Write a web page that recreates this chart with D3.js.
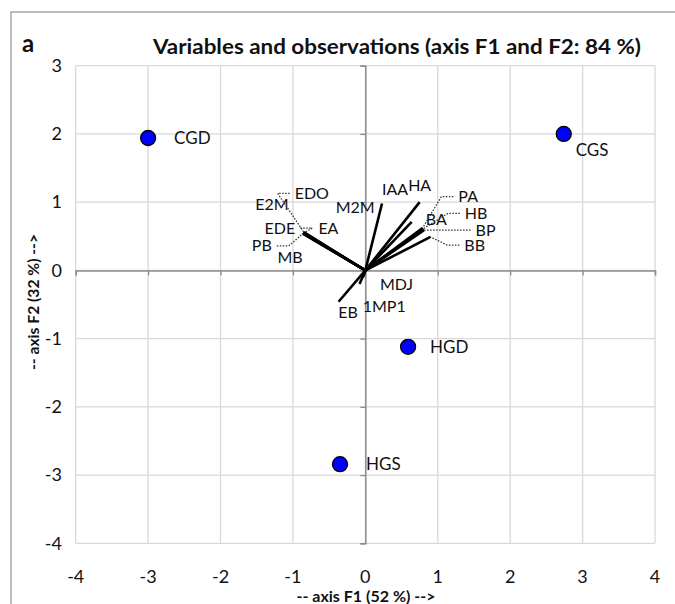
<!DOCTYPE html>
<html>
<head>
<meta charset="utf-8">
<script src="https://cdn.jsdelivr.net/npm/d3@7"></script>
<style>
  body { margin: 0; background: #fff; }
  text { font-family: Lato, "Open Sans", sans-serif; fill: #111; }
</style>
</head>
<body>
<div id="chart"></div>
<script>
// observations (blue points)
var obsNames = ["CGD", "CGS", "HGD", "HGS"];
var obsF1 = [-3.0, 2.74, 0.59, -0.35];
var obsF2 = [1.94, 2.0, -1.12, -2.84];

// variables (vectors) and where their labels sit
var varNames = ["EA", "EDO", "E2M", "EDE", "PB", "MB", "M2M", "IAA", "HA", "PA", "HB", "BA", "BP", "BB", "MDJ", "1MP1", "EB"];
var varF1 = [-0.86, -0.85, -0.86, -0.85, -0.86, -0.85, 0.23, 0.64, 0.75, 0.79, 0.80, 0.80, 0.81, 0.90, -0.03, -0.08, -0.37];
var varF2 = [0.55, 0.56, 0.54, 0.55, 0.54, 0.54, 0.98, 0.71, 1.0, 0.62, 0.61, 0.60, 0.59, 0.49, -0.10, -0.20, -0.46];
var labF1 = [-0.51, -0.74, -1.29, -1.18, -1.43, -1.04, -0.14, 0.41, 0.75, 1.42, 1.53, 0.98, 1.66, 1.51, 0.43, 0.26, -0.24];
var labF2 = [0.62, 1.13, 0.97, 0.62, 0.36, 0.19, 0.93, 1.19, 1.25, 1.08, 0.835, 0.74, 0.59, 0.37, -0.20, -0.53, -0.61];
var leaders = ["EDO", "EDE", "PB", "PA", "HB", "BP", "BB"];

var xTicks = [-4, -3, -2, -1, 0, 1, 2, 3, 4];
var yTicks = [-4, -3, -2, -1, 0, 1, 2, 3];

var W = 675, H = 604;

var x = d3.scaleLinear().domain([-4, 4]).range([75.7, 655]);
var y = d3.scaleLinear().domain([-4, 3]).range([543.3, 65.7]);

var svg = d3.select("#chart").append("svg")
    .attr("width", W)
    .attr("height", H);

// outer frame
svg.append("path")
    .attr("d", "M11," + H + "V12H" + W)
    .attr("fill", "none")
    .attr("stroke", "#a6a6a6")
    .attr("stroke-width", 1.5);

// grid
svg.append("g").selectAll("line")
    .data(xTicks).enter().append("line")
    .attr("x1", d => x(d)).attr("x2", d => x(d))
    .attr("y1", y(3)).attr("y2", y(-4))
    .attr("stroke", "#d9d9d9").attr("stroke-width", 1.3);
svg.append("g").selectAll("line")
    .data(yTicks).enter().append("line")
    .attr("y1", d => y(d)).attr("y2", d => y(d))
    .attr("x1", x(-4)).attr("x2", x(4))
    .attr("stroke", "#d9d9d9").attr("stroke-width", 1.3);

// axes through the origin
var axX = svg.append("g")
    .attr("transform", "translate(0," + y(0) + ")")
    .call(d3.axisBottom(x).tickValues(xTicks).tickSize(5).tickFormat(""));
var axY = svg.append("g")
    .attr("transform", "translate(" + x(0) + ",0)")
    .call(d3.axisLeft(y).tickValues(yTicks).tickSize(5).tickFormat(""));
[axX, axY].forEach(function(a) {
  a.select(".domain").attr("stroke", "#8c8c8c").attr("stroke-width", 1.5);
  a.selectAll(".tick line").attr("stroke", "#8c8c8c").attr("stroke-width", 1.3);
});

// tick labels
svg.append("g").selectAll("text")
    .data(xTicks).enter().append("text")
    .attr("x", d => x(d))
    .attr("y", 583)
    .attr("text-anchor", "middle")
    .attr("font-size", "18px")
    .text(d => d);
svg.append("g").selectAll("text")
    .data(yTicks).enter().append("text")
    .attr("x", 62)
    .attr("y", d => y(d))
    .attr("dy", "0.35em")
    .attr("text-anchor", "end")
    .attr("font-size", "18px")
    .text(d => d);

// titles
svg.append("text")
    .attr("x", 22).attr("y", 52)
    .attr("font-size", "24px").attr("font-weight", "bold")
    .text("a");
svg.append("text")
    .attr("x", 153).attr("y", 54)
    .attr("font-size", "21px").attr("font-weight", "bold")
    .attr("textLength", 488).attr("lengthAdjust", "spacingAndGlyphs")
    .text("Variables and observations (axis F1 and F2: 84 %)");
svg.append("text")
    .attr("x", 366).attr("y", 602)
    .attr("text-anchor", "middle")
    .attr("font-size", "16px").attr("font-weight", "bold")
    .attr("textLength", 139).attr("lengthAdjust", "spacingAndGlyphs")
    .text("-- axis F1 (52 %) -->");
svg.append("text")
    .attr("transform", "translate(39," + 302 + ") rotate(-90)")
    .attr("text-anchor", "middle")
    .attr("font-size", "16px").attr("font-weight", "bold")
    .attr("textLength", 136).attr("lengthAdjust", "spacingAndGlyphs")
    .text("-- axis F2 (32 %) -->");

// variable vectors
var vars = varNames.map(function(n, i) {
  return {name: n, f1: varF1[i], f2: varF2[i], l1: labF1[i], l2: labF2[i]};
});

var labG = svg.append("g");
var labs = labG.selectAll("text")
    .data(vars).enter().append("text")
    .attr("x", d => x(d.l1))
    .attr("y", d => y(d.l2))
    .attr("dy", "0.35em")
    .attr("text-anchor", "middle")
    .attr("font-size", "16px")
    .attr("fill", "#1a1a1a")
    .text(d => d.name);

// dotted leaders from labels to their vector ends
labs.each(function(d) {
  if (leaders.indexOf(d.name) < 0) return;
  var w = this.getComputedTextLength();
  var ex = x(d.f1), ey = y(d.f2);
  var lx = x(d.l1), ly = y(d.l2);
  var dir = ex < lx ? -1 : 1;
  var sx = lx + dir * (w / 2 + 5);
  var kx = sx + dir * 12;
  labG.append("path")
      .attr("d", "M" + sx + "," + ly + "H" + kx + "L" + ex + "," + ey)
      .attr("fill", "none")
      .attr("stroke", "#333")
      .attr("stroke-width", 1.3)
      .attr("stroke-dasharray", "1.5,1.5");
});

svg.append("g").selectAll("line")
    .data(vars).enter().append("line")
    .attr("x1", x(0)).attr("y1", y(0))
    .attr("x2", d => x(d.f1)).attr("y2", d => y(d.f2))
    .attr("stroke", "#000")
    .attr("stroke-width", 2.6);

// observations
var obs = obsNames.map(function(n, i) { return {name: n, f1: obsF1[i], f2: obsF2[i]}; });
var obsOffset = {CGD: [26, 0], CGS: [12, 16], HGD: [22, 0], HGS: [26, 0]};

svg.append("g").selectAll("circle")
    .data(obs).enter().append("circle")
    .attr("cx", d => x(d.f1))
    .attr("cy", d => y(d.f2))
    .attr("r", 7.5)
    .attr("fill", "#0000ff")
    .attr("stroke", "#000")
    .attr("stroke-width", 1.3);

svg.append("g").selectAll("text")
    .data(obs).enter().append("text")
    .attr("x", d => x(d.f1) + obsOffset[d.name][0])
    .attr("y", d => y(d.f2) + obsOffset[d.name][1])
    .attr("dy", "0.35em")
    .attr("font-size", "17px")
    .attr("fill", "#1a1a1a")
    .text(d => d.name);
</script>
</body>
</html>
